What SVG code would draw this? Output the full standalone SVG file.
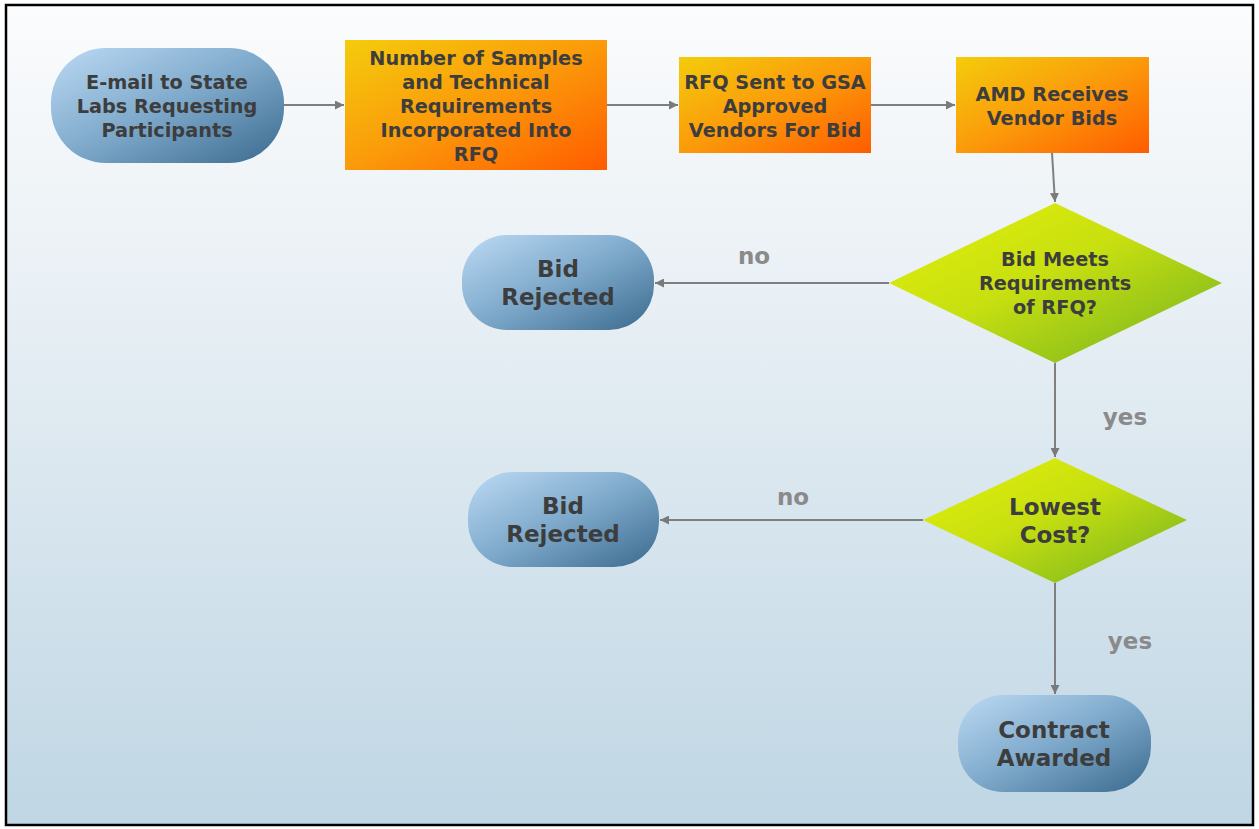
<svg xmlns="http://www.w3.org/2000/svg" width="1259" height="829" viewBox="0 0 1259 829">
<defs>
<linearGradient id="bg" x1="0" y1="0" x2="0" y2="1">
<stop offset="0" stop-color="#fbfcfd"/>
<stop offset="0.35" stop-color="#e9f0f5"/>
<stop offset="1" stop-color="#bfd6e4"/>
</linearGradient>
<linearGradient id="blue" x1="0" y1="0" x2="1" y2="1">
<stop offset="0" stop-color="#bcdaf4"/>
<stop offset="0.5" stop-color="#7ea9cb"/>
<stop offset="1" stop-color="#3a6a8e"/>
</linearGradient>
<linearGradient id="orange" x1="0" y1="0" x2="1" y2="1">
<stop offset="0" stop-color="#f4cc0c"/>
<stop offset="0.5" stop-color="#fb9a0a"/>
<stop offset="1" stop-color="#ff5c00"/>
</linearGradient>
<linearGradient id="green" x1="0" y1="0" x2="1" y2="1">
<stop offset="0" stop-color="#e4f00a"/>
<stop offset="0.45" stop-color="#c8e010"/>
<stop offset="1" stop-color="#6fb021"/>
</linearGradient>
<marker id="arr" viewBox="0 0 10 10" refX="10" refY="5" markerWidth="9" markerHeight="9" markerUnits="userSpaceOnUse" orient="auto">
<path d="M0,0 L10,5 L0,10 z" fill="#7a7a7a"/>
</marker>
</defs>
<style>
.t{font-family:"DejaVu Sans","Liberation Sans",sans-serif;font-weight:bold;fill:#3d3d3d;text-anchor:middle}
.s{font-size:19.3px}
.b{font-size:23px}
.lbl{font-family:"DejaVu Sans","Liberation Sans",sans-serif;font-weight:bold;fill:#8a8a8a;font-size:23px;text-anchor:middle}
.c{fill:none;stroke:#7f7f7f;stroke-width:2;marker-end:url(#arr)}
</style>
<rect x="0" y="0" width="1259" height="829" fill="#ffffff"/>
<rect x="6" y="5" width="1247" height="820" fill="url(#bg)" stroke="#000000" stroke-width="2.5"/>

<g id="connectors">
<line class="c" x1="284" y1="105" x2="344" y2="105"/>
<line class="c" x1="607" y1="105" x2="678" y2="105"/>
<line class="c" x1="871" y1="105" x2="955" y2="105"/>
<line class="c" x1="1052" y1="153" x2="1055" y2="202"/>
<line class="c" x1="889" y1="283" x2="655" y2="283"/>
<line class="c" x1="1055" y1="363" x2="1055" y2="457"/>
<line class="c" x1="923" y1="520" x2="660" y2="520"/>
<line class="c" x1="1055" y1="583" x2="1055" y2="694"/>
<text class="lbl" x="754" y="264">no</text>
<text class="lbl" x="1125" y="425">yes</text>
<text class="lbl" x="793" y="505">no</text>
<text class="lbl" x="1130" y="649">yes</text>
</g>

<g id="n1">
<rect x="51" y="48" width="233" height="115" rx="55" ry="55" fill="url(#blue)"/>
<text class="t s" x="167" y="89">E-mail to State</text>
<text class="t s" x="167" y="113">Labs Requesting</text>
<text class="t s" x="167" y="137">Participants</text>
</g>

<g id="n2">
<rect x="345" y="40" width="262" height="130" fill="url(#orange)"/>
<text class="t s" x="476" y="65">Number of Samples</text>
<text class="t s" x="476" y="89">and Technical</text>
<text class="t s" x="476" y="113">Requirements</text>
<text class="t s" x="476" y="137">Incorporated Into</text>
<text class="t s" x="476" y="161">RFQ</text>
</g>

<g id="n3">
<rect x="679" y="57" width="192" height="96" fill="url(#orange)"/>
<text class="t s" x="775" y="89">RFQ Sent to GSA</text>
<text class="t s" x="775" y="113">Approved</text>
<text class="t s" x="775" y="137">Vendors For Bid</text>
</g>

<g id="n4">
<rect x="956" y="57" width="193" height="96" fill="url(#orange)"/>
<text class="t s" x="1052" y="101">AMD Receives</text>
<text class="t s" x="1052" y="125">Vendor Bids</text>
</g>

<g id="d1">
<polygon points="1055,203 1222,283 1055,363 889,283" fill="url(#green)"/>
<text class="t s" x="1055" y="266">Bid Meets</text>
<text class="t s" x="1055" y="290">Requirements</text>
<text class="t s" x="1055" y="314">of RFQ?</text>
</g>

<g id="r1">
<rect x="462" y="235" width="192" height="95" rx="45" ry="45" fill="url(#blue)"/>
<text class="t b" x="558" y="277">Bid</text>
<text class="t b" x="558" y="305">Rejected</text>
</g>

<g id="d2">
<polygon points="1055,458 1187,520 1055,583 923,520" fill="url(#green)"/>
<text class="t b" x="1055" y="515">Lowest</text>
<text class="t b" x="1055" y="543">Cost?</text>
</g>

<g id="r2">
<rect x="468" y="472" width="191" height="95" rx="45" ry="45" fill="url(#blue)"/>
<text class="t b" x="563" y="514">Bid</text>
<text class="t b" x="563" y="542">Rejected</text>
</g>

<g id="n5">
<rect x="958" y="695" width="193" height="97" rx="45" ry="45" fill="url(#blue)"/>
<text class="t b" x="1054" y="738">Contract</text>
<text class="t b" x="1054" y="766">Awarded</text>
</g>
</svg>
